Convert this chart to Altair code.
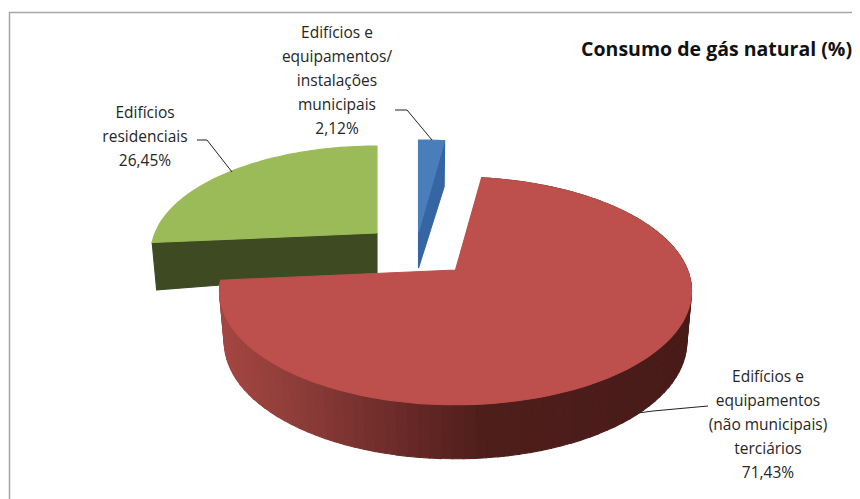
import math
import altair as alt
import pandas as pd

# ---- data ----
categories = ["Edifícios e equipamentos/ instalações municipais",
              "Edifícios e equipamentos (não municipais) terciários",
              "Edifícios residenciais"]
shares = [2.12, 71.43, 26.45]
title_text = "Consumo de gás natural (%)"

# ---- drawing parameters (a 3-D tilted, exploded pie) ----
K = 0.184                     # perspective
SHRINK = 0.98
geom = {   # apex_x, apex_y, a, b, apex depth, rim depth
    0: (418.5, 232, 233, 109, 36, 50),
    1: (455.5, 270, 232, 110, 40, 50),
    2: (377, 233, 222, 103, 40, 47),
}
top_col = {0: "#4a7ebb", 1: "#bd4f4c", 2: "#9bbb59"}
wall_col = {0: "#3565a3", 2: "#3e4b22"}
red_stops = [(222, (164, 70, 66)), (300, (140, 60, 56)), (400, (106, 42, 40)),
             (480, (78, 30, 27)), (700, (72, 27, 24))]


def mix(x):
    if x <= red_stops[0][0]:
        c = red_stops[0][1]
    else:
        c = red_stops[-1][1]
        for (x0, c0), (x1, c1) in zip(red_stops, red_stops[1:]):
            if x0 <= x <= x1:
                t = (x - x0) / (x1 - x0)
                c = tuple(round(p + (q - p) * t) for p, q in zip(c0, c1))
                break
    return "#%02x%02x%02x" % tuple(c)


def top_pt(i, deg, r=1.0):
    ax, ay, a, b, _, _ = geom[i]
    t = math.radians(deg)
    X, Y = r * math.sin(t), r * math.cos(t)
    w = 1 + K * Y
    return ax + a * X / w, ay - b * Y / w


def bot_pt(i, deg, r=1.0):
    ax, ay, a, b, d0, d1 = geom[i]
    x, y = top_pt(i, deg, r)
    rim = d1 - 4 * math.cos(math.radians(deg))
    return ax + (x - ax) * SHRINK, y + d0 + (rim - d0) * r


rows = []


def poly(pid, pts, col, z):
    closed = list(pts) + [pts[0]]
    for n, (x, y) in enumerate(closed):
        rows.append({"pid": pid, "n": n, "x": x, "y": y, "col": col, "z": z})


start = 0.0
spans = {}
for i, s in enumerate(shares):
    spans[i] = (start, start + s * 3.6)
    start += s * 3.6

# green slice: cut wall, then top
g0, g1 = spans[2]
poly("g-wall", [top_pt(2, g0, 0), top_pt(2, g0), bot_pt(2, g0), bot_pt(2, g0, 0)], wall_col[2], 0)
poly("g-top", [top_pt(2, g0, 0)] + [top_pt(2, g0 + (g1 - g0) * n / 60) for n in range(61)], top_col[2], 1)
# blue slice: cut wall, then top
b0, b1 = spans[0]
poly("b-wall", [top_pt(0, b1, 0), top_pt(0, b1), bot_pt(0, b1), bot_pt(0, b1, 0)], wall_col[0], 2)
poly("b-top", [top_pt(0, 0, 0)] + [top_pt(0, b0 + (b1 - b0) * n / 8) for n in range(9)], top_col[0], 3)
# red slice: curved wall in thin strips, then top
r0, r1 = spans[1]
N = 110
for n in range(N):
    t0 = r0 + (r1 - r0) * n / N
    t1 = r0 + (r1 - r0) * (n + 1) / N
    xm = (top_pt(1, t0)[0] + top_pt(1, t1)[0]) / 2
    poly(f"r-wall-{n:03d}", [top_pt(1, t0), top_pt(1, t1), bot_pt(1, t1), bot_pt(1, t0)], mix(xm), 4)
poly("r-top", [top_pt(1, 0, 0)] + [top_pt(1, r0 + (r1 - r0) * n / 180) for n in range(181)], top_col[1], 5)

df = pd.DataFrame(rows)

X = alt.X("x:Q", scale=alt.Scale(domain=[8, 852]), axis=None)
Y = alt.Y("y:Q", scale=alt.Scale(domain=[499, 8]), axis=None)

layers = []

# frame
frame = pd.DataFrame([("f", 0, 9.5, 499), ("f", 1, 9.5, 12.5), ("f", 2, 852, 12.5)],
                     columns=["pid", "n", "x", "y"])
layers.append(alt.Chart(frame).mark_line(color="#a6a6a6", strokeWidth=1.5).encode(
    x=X, y=Y, order="n:Q", detail="pid:N"))

for z in sorted(df.z.unique()):
    layers.append(
        alt.Chart(df[df.z == z]).mark_line(strokeWidth=1.1, interpolate="linear").encode(
            x=X, y=Y, order="n:Q", detail="pid:N",
            fill=alt.Fill("col:N", scale=None, legend=None),
            stroke=alt.Stroke("col:N", scale=None, legend=None),
        )
    )

# leader lines
leaders = pd.DataFrame(
    [("a", 0, 395, 110), ("a", 1, 407, 110), ("a", 2, 432, 140),
     ("b", 0, 197, 140), ("b", 1, 207, 140), ("b", 2, 232, 172),
     ("c", 0, 708, 406), ("c", 1, 653, 411), ("c", 2, 638, 413)],
    columns=["pid", "n", "x", "y"])
layers.append(alt.Chart(leaders).mark_line(color="#222222", strokeWidth=1).encode(
    x=X, y=Y, order="n:Q", detail="pid:N"))

# labels
labels = pd.DataFrame(
    [(337, 33, "Edifícios e"), (337, 57, "equipamentos/"), (337, 81, "instalações"),
     (337, 105, "municipais"), (337, 129, "2,12%"),
     (145, 113, "Edifícios"), (145, 137, "residenciais"), (145, 161, "26,45%"),
     (768, 377, "Edifícios e"), (768, 401, "equipamentos"), (768, 425, "(não municipais)"),
     (768, 449, "terciários"), (768, 473, "71,43%")],
    columns=["x", "y", "t"])
layers.append(alt.Chart(labels).mark_text(font="Open Sans", fontSize=15.5, color="#262626", align="center",
                                          baseline="middle").encode(x=X, y=Y, text="t:N"))
layers.append(alt.Chart(pd.DataFrame({"x": [852], "y": [50], "t": [title_text]})).mark_text(
    font="Open Sans", fontSize=19.5, fontWeight="bold", color="#111111", align="right", baseline="middle"
).encode(x=X, y=Y, text="t:N"))

chart = alt.layer(*layers).properties(
    width=844, height=491, padding=0, background="white",
    autosize=alt.AutoSizeParams(type="none"),
).configure_view(stroke=None)

chart.save("out.html", embed_options={"renderer": "svg", "actions": False})
